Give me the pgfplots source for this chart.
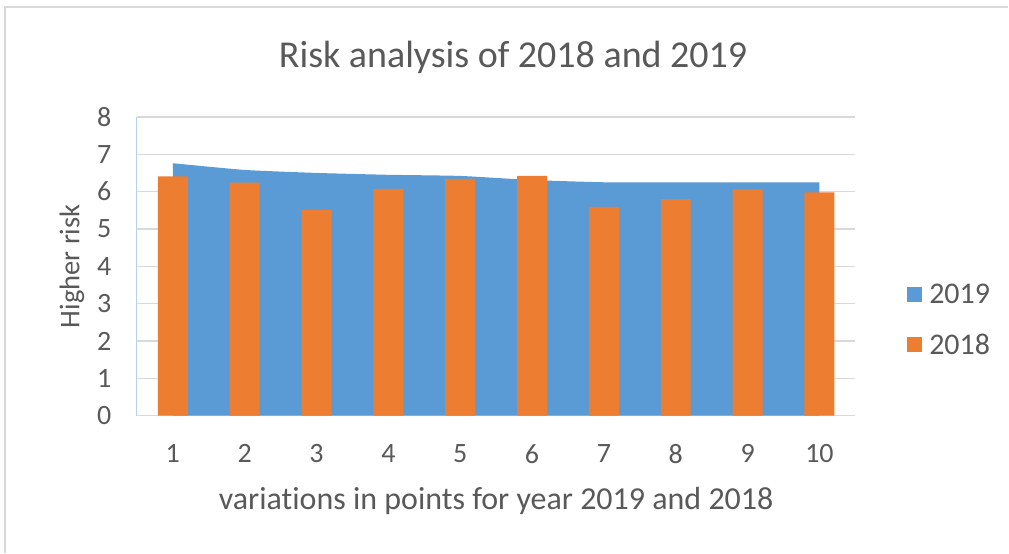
\documentclass[border=0pt]{standalone}
\usepackage{fontspec}
\setmainfont{Carlito}[RawFeature={-liga;-clig;-calt}]
\usepackage{pgfplots}
\pgfplotsset{compat=1.18}
\definecolor{sblue}{HTML}{5B9BD5}
\definecolor{sorange}{HTML}{ED7D31}
\definecolor{txt}{HTML}{595959}
\definecolor{gridc}{HTML}{D9D9D9}
\begin{document}
\begin{tikzpicture}
\path[fill=white] (0pt,0pt) rectangle (1009pt,553pt);
\draw[gridc, line width=1.5pt] (5pt,0pt) -- (5pt,546pt) -- (1009pt,546pt);
\begin{axis}[
    at={(137pt,137pt)}, anchor=south west,
    scale only axis, width=719pt, height=299pt,
    xmin=0.5, xmax=10.5, ymin=0, ymax=8,
    xtick={1,...,10}, ytick={0,...,8},
    major tick length=0pt,
    ymajorgrids, grid style={gridc, line width=1.2pt},
    axis x line*=bottom, axis y line*=left,
    x axis line style={gridc, line width=1.2pt},
    y axis line style={draw=sblue!45, line width=0.8pt},
    tick label style={font=\fontsize{28}{28}\selectfont, text=txt},
    /pgf/number format/assume math mode=true,
    yticklabel style={xshift=-22pt},
    xticklabel style={yshift=-25pt},
    xlabel={variat\kern0pt ions in points for year 2019 and 2018},
    ylabel={Higher risk},
    xlabel style={font=\fontsize{32}{32}\selectfont, text=txt, yshift=-17pt},
    ylabel style={font=\fontsize{28.5}{28.5}\selectfont, text=txt, yshift=6pt},
    title={Risk analysis of 2018 and 2019},
    title style={font=\fontsize{38}{38}\selectfont, text=txt, yshift=34pt, xshift=17pt},
    legend style={draw=none, fill=none, at={(1.072,0.321)}, anchor=west,
        font=\fontsize{30}{30}\selectfont, text=txt, inner sep=0pt,
        row sep=25pt, nodes={inner xsep=7pt}},
    legend cell align=left,
]
\addplot[fill=sblue, draw=none, smooth, tension=0.3,
    legend image code/.code={\fill[sblue] (0pt,-7.5pt) rectangle (15pt,7.5pt);}]
    coordinates {(1,6.76) (2,6.58) (3,6.50) (4,6.45) (5,6.42) (6,6.31) (7,6.25) (8,6.25) (9,6.25) (10,6.25)} \closedcycle;
\addlegendentry{2019}
\addplot[ybar, bar width=30pt, bar shift=0pt, fill=sorange, draw=none,
    legend image code/.code={\fill[sorange] (0pt,-7.5pt) rectangle (15pt,7.5pt);}]
    coordinates {(1,6.41) (2,6.24) (3,5.51) (4,6.07) (5,6.34) (6,6.42) (7,5.59) (8,5.80) (9,6.06) (10,5.98)};
\addlegendentry{2018}
\end{axis}
\end{tikzpicture}
\end{document}
